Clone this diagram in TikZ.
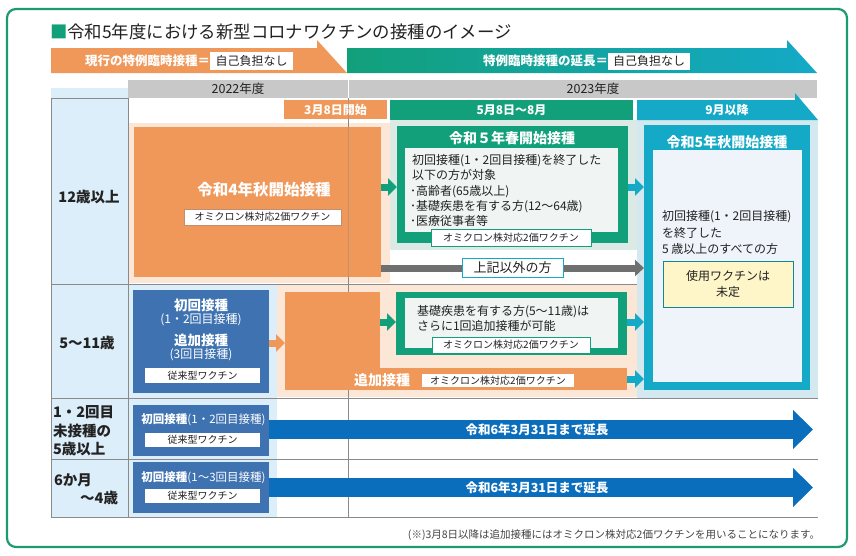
\documentclass[tikz,border=0pt]{standalone}
\usepackage{fontspec}
\setmainfont{Noto Sans CJK JP}
\usetikzlibrary{arrows.meta}
\definecolor{frameg}{HTML}{1E9A70}
\definecolor{grn}{HTML}{12A07B}
\definecolor{tealc}{HTML}{14A9C7}
\definecolor{orng}{HTML}{F0985A}
\definecolor{peach}{HTML}{FCE6D6}
\definecolor{ltblue}{HTML}{DCEEFA}
\definecolor{sblue}{HTML}{3E72B0}
\definecolor{arblue}{HTML}{0B6EBD}
\definecolor{bandgray}{HTML}{C8C8C8}
\definecolor{gridgray}{HTML}{8A8A8A}
\definecolor{arrgray}{HTML}{6F6F6F}
\definecolor{greenbg}{HTML}{DCEAE6}
\definecolor{tealbg}{HTML}{D3E8EF}
\definecolor{innerg}{HTML}{F0F5F4}
\definecolor{innert}{HTML}{EEF4FA}
\definecolor{yelc}{HTML}{FEF5C8}
\definecolor{txt}{HTML}{222222}
\newcommand\fsz[2]{\fontsize{#1}{#2}\selectfont}
\begin{document}
\begin{tikzpicture}[x=1pt,y=-1pt,
  every node/.style={inner sep=0pt, outer sep=0pt, text=txt},
  wbox/.style={fill=white, font=\fsz{12}{12}},
  bandtxt/.style={text=white, font=\bfseries\fsz{12.5}{12.5}},
  hdr/.style={text=white, font=\bfseries\fsz{12}{12}},
  lab/.style={fill=white, draw=#1, line width=0.6pt, font=\fsz{10}{10}},
  lab/.default=grn,
  wlab/.style={fill=white, font=\fsz{10}{10}},
  rowlab/.style={font=\bfseries\fsz{14.5}{14.5}},
  body/.style={anchor=west, font=\fsz{12}{12}},
  wt/.style={text=white, font=\bfseries\fsz{14}{14}},
  gridl/.style={gridgray, line width=0.8pt},
  smarr/.style={line width=7pt, -{Triangle[length=9pt,width=17pt]}},
  bigarr/.style={line width=19pt, arblue, -{Triangle[length=20pt,width=38pt]}},
  arrtxt/.style={text=white, font=\bfseries\fsz{12.5}{12.5}}]
\useasboundingbox (0,0) rectangle (856,555);
\fill[white] (0,0) rectangle (856,555);
\draw[frameg, line width=2.2pt, rounded corners=9pt] (7,9) rectangle (847,547);

% title
\node[anchor=west, font=\fsz{17.4}{17.4}, text=txt] (title) at (50,32) {{\color{grn}■}令和5年度における新型コロナワクチンの接種のイメージ};

% top bands
\fill[orng] (51,48) -- (317,48) -- (317,40) -- (347,73) -- (51,73) -- cycle;
\shade[left color=grn, right color=tealc] (347,48) -- (787,48) -- (787,40) -- (817,73) -- (347,73) -- cycle;
\node[wbox, minimum width=83pt, minimum height=18pt, anchor=west] (nf1) at (210,61) {自己負担なし};
\node[bandtxt, anchor=east] (cur) at (nf1.west) {現行の特例臨時接種＝};
\node[wbox, minimum width=82pt, minimum height=17pt, anchor=west] (nf2) at (608,61) {自己負担なし};
\node[bandtxt, anchor=east] (ext) at (nf2.west) {特例臨時接種の延長＝};

% year header and backgrounds
\fill[ltblue] (51,88) rectangle (128,517);
\fill[bandgray] (128,80) rectangle (817,98);
\draw[white, line width=1pt] (348,80) -- (348,98);
\node[font=\fsz{12.5}{12.5}] (y22) at (238,89) {2022年度};
\node[font=\fsz{12.5}{12.5}] (y23) at (593,89) {2023年度};
\fill[peach] (128,123) rectangle (390,283);
\fill[greenbg] (390,120) rectangle (637,250);
\fill[tealbg] (637,120) rectangle (818,398);
\fill[ltblue] (128,284) rectangle (277,517);
\fill[peach] (277,285) rectangle (637,397);

% grid
\draw[gridl] (51,98) -- (128,98);
\draw[gridl] (51,284) -- (637,284);
\draw[gridl] (51,398) -- (818,398);
\draw[gridl] (51,459) -- (818,459);
\draw[gridl] (51,517) -- (818,517);
\draw[gridl] (51,98) -- (51,517);
\draw[gridl] (128,98) -- (128,517);
\draw[gridl] (348,98) -- (348,517);

% column headers
\node[fill=orng, minimum width=103pt, minimum height=19pt, hdr] (mar8) at (335.5,109.5) {3月8日開始};
\node[fill=grn, minimum width=243pt, minimum height=20pt, hdr] (may) at (511.5,110) {5月8日～8月};
\fill[tealc] (637,100) -- (795,100) -- (795,93) -- (818,120) -- (637,120) -- cycle;
\node[hdr] (sep) at (727,110) {9月以降};

% row labels
\node[rowlab] (r1) at (89,197) {12歳以上};
\node[rowlab] (r2) at (87,343) {5～11歳};
\node[rowlab, anchor=west] (r3a) at (53,412) {1・2回目};
\node[rowlab, anchor=west] (r3b) at (53,431) {未接種の};
\node[rowlab, anchor=west] (r3c) at (53,449) {5歳以上};
\node[rowlab, anchor=west] (r4a) at (54,480) {6か月};
\node[rowlab, anchor=east] (r4b) at (118,498) {～4歳};

% row 1 : autumn 2022 box
\node[fill=orng, minimum width=247pt, minimum height=150pt] (o4) at (257.5,202) {};
\node[text=white, font=\bfseries\fsz{15.5}{15.5}] (o4t) at (264,190) {令和4年秋開始接種};
\node[lab=orng!60!gray, minimum width=157pt, minimum height=16pt] (o4l) at (262.5,217) {オミクロン株対応2価ワクチン};
\draw[gridgray, line width=0.6pt, opacity=0.45] (348,100) -- (348,277);

% row 1 : spring 2023 box
\node[fill=grn, minimum width=231pt, minimum height=117pt] (g1) at (512.5,184.5) {};
\node[wt] (g1t) at (512,138) {令和５年春開始接種};
\node[fill=innerg, minimum width=213pt, minimum height=84pt] (g1in) at (511.5,190) {};
\node[body] (g1a) at (412,161) {初回接種(1・2回目接種)を終了した};
\node[body] (g1b) at (412,174.5) {以下の方が対象};
\node[body] (g1c) at (410,192) {･高齢者(65歳以上)};
\node[body] (g1d) at (410,206.5) {･基礎疾患を有する方(12～64歳)};
\node[body] (g1e) at (410,220.5) {･医療従事者等};
\node[lab, minimum width=160pt, minimum height=17pt] (g1l) at (511,237.5) {オミクロン株対応2価ワクチン};

% autumn 2023 box
\node[fill=tealc, minimum width=166pt, minimum height=265pt] (t1) at (727,257.5) {};
\node[wt] (t1t) at (727,142) {令和5年秋開始接種};
\node[fill=innert, minimum width=149pt, minimum height=232pt] (t1in) at (727.5,266) {};
\node[body] (t1a) at (662,217) {初回接種(1・2回目接種)};
\node[body] (t1b) at (662,233) {を終了した};
\node[body] (t1c) at (662,249) {5 歳以上のすべての方};
\node[fill=yelc, draw=tealc!80!black, line width=0.6pt, minimum width=130pt, minimum height=46pt, align=center, font=\fsz{12}{16}] (yel) at (728,284) {使用ワクチンは\\未定};

% row 2
\node[fill=sblue, minimum width=136pt, minimum height=103pt] (b2) at (201,341.5) {};
\node[wt, font=\bfseries\fsz{13.5}{13.5}] (b2a) at (201,305) {初回接種};
\node[text=white, font=\fsz{12}{12}] (b2b) at (201,319.5) {(1・2回目接種)};
\node[wt, font=\bfseries\fsz{13.5}{13.5}] (b2c) at (201,340) {追加接種};
\node[text=white, font=\fsz{12}{12}] (b2d) at (201,354.5) {(3回目接種)};
\node[wlab, minimum width=115pt, minimum height=15pt] (b2l) at (202.5,375.5) {従来型ワクチン};

\node[fill=orng, minimum width=95pt, minimum height=98pt] (oblock) at (332.5,341) {};
\node[fill=orng, minimum width=342pt, minimum height=22pt] (obar) at (456,379) {};
\node[wt] (obt) at (382,380) {追加接種};
\node[wlab, minimum width=152pt, minimum height=13pt] (obl) at (498,380.5) {オミクロン株対応2価ワクチン};

\node[fill=grn, minimum width=231pt, minimum height=63pt] (g2) at (511.5,323.5) {};
\node[fill=innerg, minimum width=213pt, minimum height=50pt] (g2in) at (511.5,323) {};
\node[body] (g2a) at (417,312) {基礎疾患を有する方(5～11歳)は};
\node[body] (g2b) at (417,325.5) {さらに1回追加接種が可能};
\node[lab, minimum width=158pt, minimum height=16pt] (g2l) at (511,345) {オミクロン株対応2価ワクチン};

% rows 3 and 4
\node[fill=sblue, minimum width=136pt, minimum height=51pt] (b3) at (201,430.5) {};
\node[text=white, font=\fsz{11.5}{11.5}] (b3a) at (203.5,420) {{\bfseries 初回接種}(1・2回目接種)};
\node[wlab, minimum width=115pt, minimum height=14pt] (b3l) at (202.5,439.5) {従来型ワクチン};
\node[fill=sblue, minimum width=136pt, minimum height=51pt] (b4) at (201,487.5) {};
\node[text=white, font=\fsz{11.5}{11.5}] (b4a) at (203.5,478) {{\bfseries 初回接種}(1～3回目接種)};
\node[wlab, minimum width=115pt, minimum height=14pt] (b4l) at (202.5,496) {従来型ワクチン};

% connectors
\coordinate (ya) at (0,187);
\coordinate (yb) at (0,268);
\coordinate (yc) at (0,322);
\coordinate (yd) at (0,379);
\coordinate (ye) at (0,343);
\coordinate (e3) at (813,429.5);
\coordinate (e4) at (813,487.5);
\draw[smarr, grn] (o4.east |- ya) -- (g1.west |- ya);
\draw[smarr, tealc] (g1.east |- ya) -- (t1.west |- ya);
\draw[line width=7pt, arrgray, -{Triangle[length=9pt,width=16pt]}] (o4.east |- yb) -- (t1.west |- yb);
\node[lab=tealc, minimum width=101pt, minimum height=19pt, font=\fsz{13}{13}] (oth) at (512.5,267.5) {上記以外の方};
\draw[smarr, orng] (b2.east |- ye) -- (oblock.west |- ye);
\draw[smarr, grn] (oblock.east |- yc) -- (g2.west |- yc);
\draw[smarr, tealc] (g2.east |- yc) -- (t1.west |- yc);
\draw[smarr, tealc] (obar.east |- yd) -- (t1.west |- yd);
\draw[bigarr] (b3.east |- e3) -- (e3);
\node[arrtxt] (a3) at (537,429.5) {令和6年3月31日まで延長};
\draw[bigarr] (b4.east |- e4) -- (e4);
\node[arrtxt] (a4) at (537,487.5) {令和6年3月31日まで延長};

% footnote
\node[anchor=east, font=\fsz{10.5}{10.5}, text=txt!85] (note) at (820,535) {(※)3月8日以降は追加接種にはオミクロン株対応2価ワクチンを用いることになります。};
\end{tikzpicture}
\end{document}
